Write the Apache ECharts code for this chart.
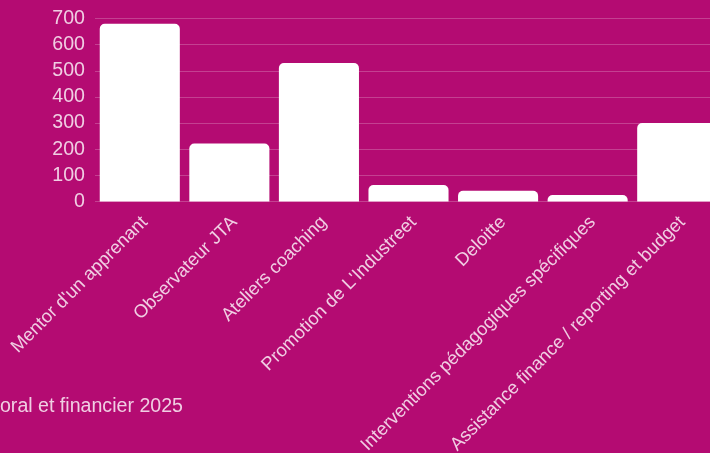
<!DOCTYPE html>
<html>
<head>
<meta charset="utf-8">
<script src="https://cdn.jsdelivr.net/npm/echarts@6/dist/echarts.min.js"></script>
<style>
html,body{margin:0;padding:0;overflow:hidden;background:#b40b72;}
#chart{width:710px;height:453px;}
</style>
</head>
<body>
<div id="chart"></div>
<script>
const titleText = "Rapport moral et financier 2025";
const categories = [
  "Mentor d'un apprenant",
  "Observateur JTA",
  "Ateliers coaching",
  "Promotion de L'Industreet",
  "Deloitte",
  "Interventions pédagogiques spécifiques",
  "Assistance finance / reporting et budget"
];
const values = [680, 222, 530, 63, 41, 25, 300];
const yTicks = { min: 0, max: 700, interval: 100 };

const font = "'Liberation Sans', Arial, Helvetica, sans-serif";
const textColor = "rgba(255,255,255,0.8)";
const fs = 19.6;

const chart = echarts.init(document.getElementById('chart'));
chart.setOption({
  backgroundColor: '#b40b72',
  animation: false,
  title: {
    text: titleText,
    left: -91.5,
    top: 397,
    padding: 0,
    textStyle: { color: textColor, fontSize: fs, fontWeight: 'normal', fontFamily: font }
  },
  grid: {
    left: 95,
    right: -12,
    top: 18.5,
    bottom: 251.5,
    containLabel: false,
    outerBoundsMode: 'none'
  },
  xAxis: {
    type: 'category',
    data: categories,
    axisLine: { show: false },
    axisTick: { show: false },
    axisLabel: {
      interval: 0,
      rotate: 45,
      margin: 13,
      verticalAlign: 'top',
      lineHeight: 14,
      color: textColor,
      fontSize: 18.4,
      fontFamily: font
    }
  },
  yAxis: {
    type: 'value',
    min: yTicks.min,
    max: yTicks.max,
    interval: yTicks.interval,
    axisLine: { show: false },
    axisTick: { show: false },
    axisLabel: { color: textColor, fontSize: fs, fontFamily: font, margin: 10 },
    splitLine: { lineStyle: { color: 'rgba(255,255,255,0.22)', width: 1 } }
  },
  series: [{
    type: 'bar',
    data: values,
    barCategoryGap: '10.6%',
    itemStyle: { color: '#ffffff', borderRadius: [5, 5, 0, 0] }
  }]
});
</script>
</body>
</html>
